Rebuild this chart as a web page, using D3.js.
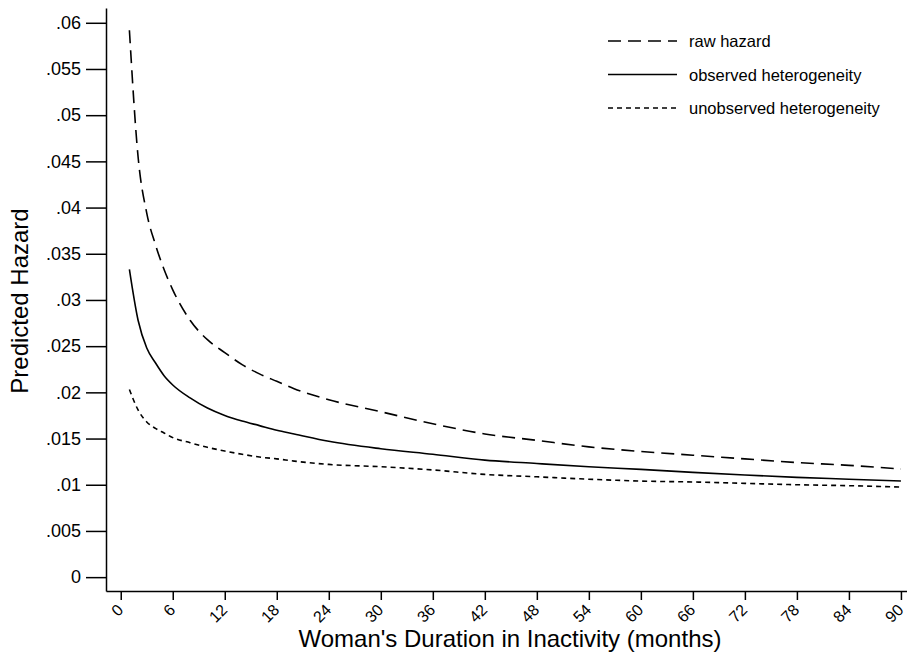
<!DOCTYPE html>
<html>
<head>
<meta charset="utf-8">
<script src="https://cdn.jsdelivr.net/npm/d3@7"></script>
<style>
  body { margin: 0; background: #fff; }
  svg { font-family: "Liberation Sans", Arial, sans-serif; }
  .axis path, .axis line { stroke: #000; stroke-width: 1.5; }
  .axis text { fill: #000; }
</style>
</head>
<body>
<svg width="907" height="655"></svg>
<script>
// months at which the predicted hazards were read
var months = [1, 2, 3, 4, 5, 6, 8, 10, 12, 14, 16, 18, 20, 24, 30, 36, 42, 48, 54, 60, 66, 72, 78, 84, 90];

var rawHazard = [0.0592, 0.0455, 0.0394, 0.0360, 0.0333, 0.0311, 0.0278, 0.0257, 0.0243, 0.0230, 0.0220, 0.0212,
    0.0204, 0.0192, 0.0179, 0.0166, 0.0155, 0.0148, 0.0141, 0.0136, 0.0132, 0.0128, 0.0124, 0.0121, 0.0117];
var observedHet = [0.0333, 0.0278, 0.0248, 0.0232, 0.0218, 0.0208, 0.0194, 0.0183, 0.0175, 0.0169, 0.0164, 0.0159,
    0.0155, 0.0147, 0.0139, 0.0133, 0.01267, 0.0123, 0.01195, 0.01166, 0.01134, 0.01105, 0.0108, 0.0106, 0.0104];
var unobservedHet = [0.0203, 0.0181, 0.0168, 0.0161, 0.0156, 0.0151, 0.01455, 0.01405, 0.01365, 0.0133, 0.0130, 0.0128,
    0.01256, 0.0122, 0.01195, 0.0116, 0.01112, 0.01086, 0.0106, 0.0104, 0.0103, 0.01015, 0.0100, 0.0099, 0.00975];

var seriesNames = ["raw hazard", "observed heterogeneity", "unobserved heterogeneity"];
var seriesDash = ["13,7", null, "5,4"];

var xTicks = d3.range(0, 91, 6);
var yTicks = d3.range(0, 0.0601, 0.005);

var svg = d3.select("svg");

var x = d3.scaleLinear()
    .domain([-1.7, 90.7])
    .range([106, 907]);

var y = d3.scaleLinear()
    .domain([-0.0015, 0.0616])
    .range([591, 8]);

var fmt = function (d) {
    if (Math.abs(d) < 1e-9) return "0";
    return d3.format(".3~f")(d).replace(/^0\./, ".");
};

// y axis
var yAxis = svg.append("g")
    .attr("class", "axis")
    .attr("transform", "translate(106,0)")
    .call(d3.axisLeft(y).tickValues(yTicks).tickSize(20).tickSizeOuter(0).tickPadding(5).tickFormat(fmt));
yAxis.selectAll("text").style("font-size", "18px");

// x axis
var xAxis = svg.append("g")
    .attr("class", "axis")
    .attr("transform", "translate(0,591)")
    .call(d3.axisBottom(x).tickValues(xTicks).tickSize(9).tickSizeOuter(0).tickFormat(d3.format("d")));
xAxis.selectAll("text")
    .style("font-size", "16px")
    .attr("text-anchor", "end")
    .attr("dy", null)
    .attr("y", null)
    .attr("transform", "translate(3,20) rotate(-45)");

// axis titles
svg.append("text")
    .attr("x", 510)
    .attr("y", 647)
    .attr("text-anchor", "middle")
    .style("font-size", "24px")
    .text("Woman's Duration in Inactivity (months)");

svg.append("text")
    .attr("transform", "translate(28,301) rotate(-90)")
    .attr("text-anchor", "middle")
    .style("font-size", "24px")
    .text("Predicted Hazard");

// lines
var allSeries = [rawHazard, observedHet, unobservedHet];

var line = d3.line()
    .x(function (d, i) { return x(months[i]); })
    .y(function (d) { return y(d); })
    .curve(d3.curveMonotoneX);

allSeries.forEach(function (vals, k) {
    svg.append("path")
        .datum(vals)
        .attr("fill", "none")
        .attr("stroke", "#000")
        .attr("stroke-width", 1.6)
        .attr("stroke-dasharray", seriesDash[k])
        .attr("d", line);
});

// legend
var legend = svg.append("g").attr("transform", "translate(608,41)");
seriesNames.forEach(function (name, k) {
    var row = legend.append("g").attr("transform", "translate(0," + (k * 33.5) + ")");
    row.append("line")
        .attr("x1", 0).attr("x2", 69)
        .attr("stroke", "#000")
        .attr("stroke-width", 1.6)
        .attr("stroke-dasharray", seriesDash[k]);
    row.append("text")
        .attr("x", 81)
        .attr("y", 6)
        .style("font-size", "16.5px")
        .text(name);
});
</script>
</body>
</html>
